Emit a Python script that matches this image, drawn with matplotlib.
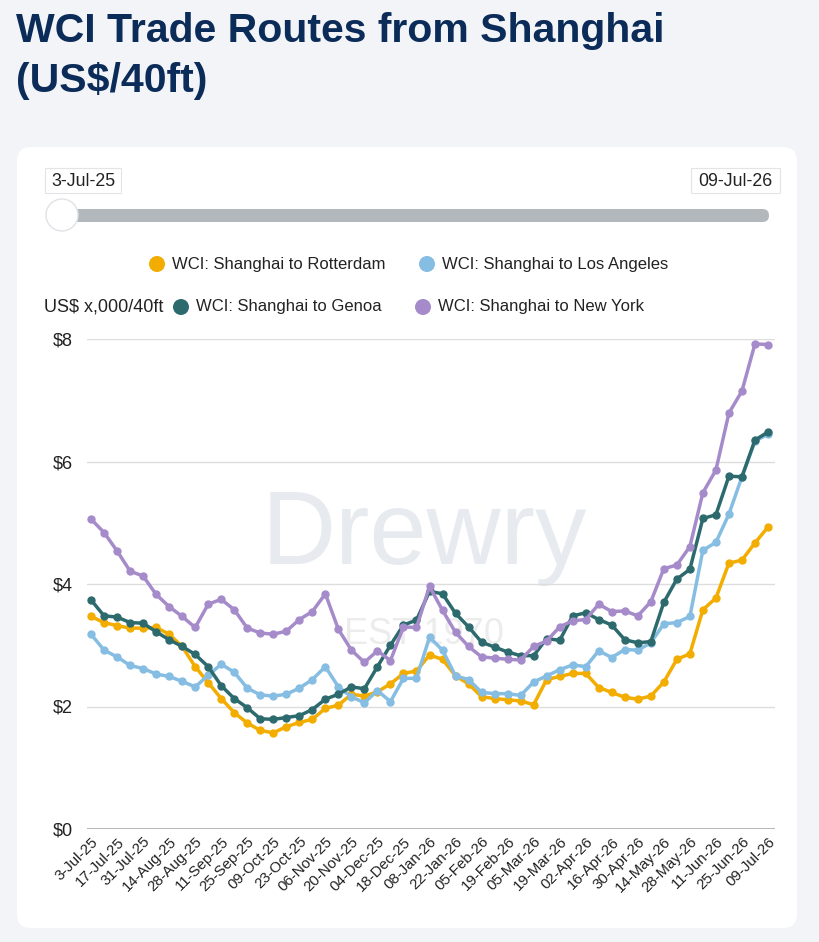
import matplotlib
matplotlib.use('Agg')
import matplotlib.pyplot as plt
import matplotlib.transforms as mtransforms
from matplotlib.patches import FancyBboxPatch, Circle, Rectangle
import numpy as np

plt.rcParams['font.family'] = ['Liberation Sans', 'DejaVu Sans']

# weekly WCI spot rates, US$ thousand per 40ft
tick_labels = ['3-Jul-25', '17-Jul-25', '31-Jul-25', '14-Aug-25', '28-Aug-25', '11-Sep-25',
               '25-Sep-25', '09-Oct-25', '23-Oct-25', '06-Nov-25', '20-Nov-25', '04-Dec-25',
               '18-Dec-25', '08-Jan-26', '22-Jan-26', '05-Feb-26', '19-Feb-26', '05-Mar-26',
               '19-Mar-26', '02-Apr-26', '16-Apr-26', '30-Apr-26', '14-May-26', '28-May-26',
               '11-Jun-26', '25-Jun-26', '09-Jul-26']

rotterdam = [3.47, 3.37, 3.32, 3.28, 3.28, 3.29, 3.18, 2.98, 2.65, 2.39, 2.13, 1.90, 1.73, 1.61,
             1.57, 1.67, 1.74, 1.79, 1.97, 2.02, 2.20, 2.17, 2.24, 2.37, 2.54, 2.58, 2.84, 2.77,
             2.50, 2.37, 2.16, 2.13, 2.11, 2.09, 2.03, 2.44, 2.49, 2.54, 2.54, 2.31, 2.23, 2.15,
             2.12, 2.17, 2.40, 2.77, 2.86, 3.58, 3.77, 4.34, 4.39, 4.67, 4.93]
los_angeles = [3.18, 2.92, 2.81, 2.67, 2.62, 2.53, 2.49, 2.41, 2.32, 2.51, 2.69, 2.56, 2.30, 2.19,
               2.17, 2.20, 2.30, 2.44, 2.65, 2.32, 2.16, 2.06, 2.26, 2.08, 2.46, 2.46, 3.13, 2.92,
               2.50, 2.44, 2.23, 2.21, 2.21, 2.18, 2.40, 2.50, 2.60, 2.68, 2.65, 2.91, 2.80, 2.93,
               2.92, 3.04, 3.35, 3.37, 3.47, 4.55, 4.68, 5.14, 5.75, 6.33, 6.45]
genoa = [3.74, 3.48, 3.46, 3.37, 3.36, 3.22, 3.09, 2.98, 2.85, 2.65, 2.34, 2.13, 1.98, 1.80,
         1.79, 1.82, 1.85, 1.95, 2.12, 2.20, 2.32, 2.29, 2.65, 3.00, 3.33, 3.41, 3.88, 3.84,
         3.52, 3.30, 3.05, 2.97, 2.89, 2.83, 2.83, 3.11, 3.08, 3.48, 3.53, 3.42, 3.33, 3.09,
         3.04, 3.06, 3.70, 4.08, 4.24, 5.07, 5.13, 5.76, 5.75, 6.35, 6.48]
new_york = [5.06, 4.84, 4.54, 4.21, 4.13, 3.83, 3.63, 3.47, 3.29, 3.67, 3.75, 3.58, 3.28, 3.20,
            3.18, 3.23, 3.42, 3.55, 3.84, 3.26, 2.92, 2.72, 2.91, 2.75, 3.30, 3.29, 3.96, 3.57,
            3.21, 2.98, 2.81, 2.79, 2.77, 2.76, 2.98, 3.07, 3.30, 3.40, 3.42, 3.67, 3.55, 3.56,
            3.48, 3.71, 4.25, 4.31, 4.61, 5.49, 5.86, 6.79, 7.15, 7.92, 7.91]

series = [
    ('WCI: Shanghai to Rotterdam', rotterdam, '#f2ad00'),
    ('WCI: Shanghai to Los Angeles', los_angeles, '#86bde3'),
    ('WCI: Shanghai to Genoa', genoa, '#2d6a6e'),
    ('WCI: Shanghai to New York', new_york, '#a68bcb'),
]

W, H = 820, 942
fig = plt.figure(figsize=(W / 100, H / 100), dpi=100)
fig.patch.set_facecolor('#f2f4f8')

# page layer in pixel coordinates
bg = fig.add_axes([0, 0, 1, 1])
bg.set_xlim(0, W)
bg.set_ylim(H, 0)
bg.axis('off')

bg.text(16, 42, 'WCI Trade Routes from Shanghai', ha='left', va='baseline',
        fontsize=29.5, fontweight='bold', color='#0b2b58')
bg.text(16, 92, '(US$/40ft)', ha='left', va='baseline',
        fontsize=29.5, fontweight='bold', color='#0b2b58')

bg.add_patch(FancyBboxPatch((17, 147), 780, 781, boxstyle='round,pad=0,rounding_size=14',
                            fc='white', ec='none'))

# range slider
for x0, w0, lab in [(45, 76, '3-Jul-25'), (691, 89, '09-Jul-26')]:
    bg.add_patch(Rectangle((x0, 168), w0, 25, fc='white', ec='#e2e4e8', lw=0.8))
    bg.text(x0 + w0 / 2, 181, lab, ha='center', va='center', fontsize=12.8, color='#222222')
bg.add_patch(FancyBboxPatch((47, 209), 722, 13, boxstyle='round,pad=0,rounding_size=6.5',
                            fc='#b3b8bd', ec='none'))
bg.add_patch(Circle((62, 215), 16, fc='white', ec='#e0e2e6', lw=1.0, zorder=3))

# legend
legend_pos = [(157, 264), (427, 264), (181, 307), (423, 307)]
for (name, vals, col), (lx, ly) in zip(series, legend_pos):
    bg.add_patch(Circle((lx, ly), 8, fc=col, ec='none'))
    bg.text(lx + 15, ly, name, ha='left', va='center', fontsize=12, color='#222222')
bg.text(44, 307, 'US$ x,000/40ft', ha='left', va='center', fontsize=13, color='#222222')

# watermark
bg.text(424, 537, 'Drewry', ha='center', va='center', fontsize=74, color='#e7ebf0', zorder=1)
bg.text(424, 634, 'EST 1970', ha='center', va='center', fontsize=26, color='#ececec', zorder=1)

# chart
x = np.arange(len(rotterdam))
ax = fig.add_axes([87 / W, 1 - 829 / H, (775 - 87) / W, (829 - 339) / H])
ax.set_facecolor('none')
for name, vals, col in series:
    ax.plot(x, vals, color=col, lw=2.5, marker='o', ms=5, label=name, clip_on=False,
            solid_joinstyle='round', zorder=3)

ax.set_xlim(-0.31, 52.54)
ax.set_ylim(0, 8)
ax.set_yticks([0, 2, 4, 6, 8])
ax.set_yticklabels(['$0', '$2', '$4', '$6', '$8'], fontsize=13, color='#222222')
ax.grid(axis='y', color='#dddddd', lw=1)
ax.axhline(0, color='#aaaaaa', lw=1.2, zorder=2)
ax.set_xticks(x[::2])
ax.set_xticklabels(tick_labels, rotation=45, ha='right', va='top', rotation_mode='anchor',
                   fontsize=10.8, color='#222222')
offset = mtransforms.ScaledTranslation(5 / 100, -8 / 100, fig.dpi_scale_trans)
for lab in ax.get_xticklabels():
    lab.set_transform(lab.get_transform() + offset)
ax.tick_params(axis='both', length=0, pad=4)
ax.tick_params(axis='y', pad=10)
for s in ax.spines.values():
    s.set_visible(False)

fig.savefig('out.png', dpi=100, facecolor=fig.get_facecolor())
